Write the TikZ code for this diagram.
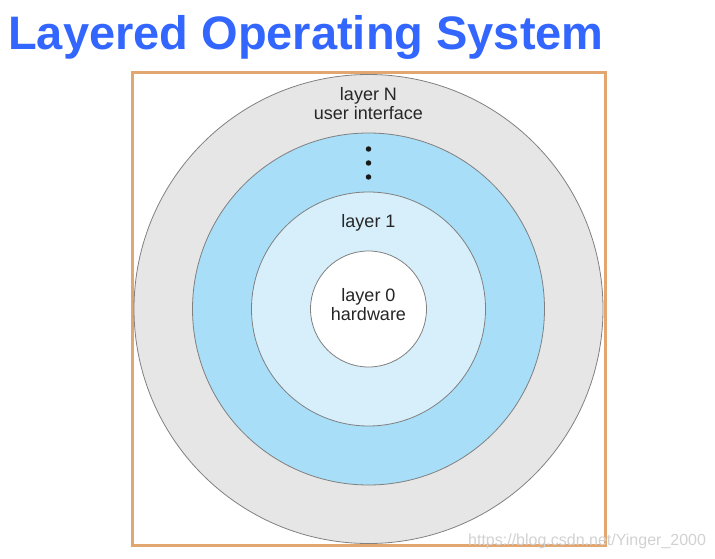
\documentclass[tikz,border=0pt]{standalone}
\usepackage{fontspec}
\setmainfont{Liberation Sans}
\usetikzlibrary{positioning}

\definecolor{titleblue}{RGB}{51,102,255}
\definecolor{frameorange}{RGB}{226,166,112}
\definecolor{layergray}{RGB}{230,230,230}
\definecolor{layerblue}{RGB}{168,222,247}
\definecolor{layerlight}{RGB}{214,239,251}

\begin{document}
\begin{tikzpicture}[x=1pt,y=-1pt]
		\tikzstyle{layer}=[circle,draw=black!50,line width=0.8pt,inner sep=0pt]
		\tikzstyle{lbl}=[font=\fontsize{18}{19}\selectfont,align=center,text=black!85,inner sep=0pt]
		\tikzstyle{dot}=[circle,fill=black!90,minimum size=5.5pt,inner sep=0pt]
		
		\useasboundingbox (0,0) rectangle (715,559);
		\node[anchor=base west,text=titleblue,font=\bfseries\fontsize{47}{50}\selectfont,inner sep=0pt] (title) at (8,50) {Layered Operating System};
		\node[draw=frameorange,line width=3pt,minimum width=473pt,minimum height=472pt,inner sep=0pt] (frame) at (368.5,309) {};
		
		\node[layer,fill=layergray,minimum size=469pt] (layerN) at (368.5,309) {};
		\node[layer,fill=layerblue,minimum size=352pt] (layerdots) at (368.5,309) {};
		\node[layer,fill=layerlight,minimum size=234pt] (layer1) at (368.5,309) {};
		\node[layer,fill=white,minimum size=116pt] (layer0) at (368.5,309) {};
		
		\node[lbl,anchor=base] (textN) at (368.5,101) {layer N};
		\node[lbl,anchor=base] (textui) at (368.5,120) {user interface};
		\node[dot] (d1) at (368.5,149) {};
		\node[dot] (d2) at (368.5,163) {};
		\node[dot] (d3) at (368.5,177) {};
		\node[lbl,anchor=base] (text1) at (368.5,227) {layer 1};
		\node[lbl,anchor=base] (text0) at (368.5,301) {layer 0};
		\node[lbl,anchor=base] (texthw) at (368.5,320) {hardware};
		
		\node[anchor=base west,text=black!18,font=\fontsize{16}{16}\selectfont,inner sep=0pt] (mark) at (468,545) {https://blog.csdn.net/Yinger\_2000};
		\end{tikzpicture}
\end{document}
